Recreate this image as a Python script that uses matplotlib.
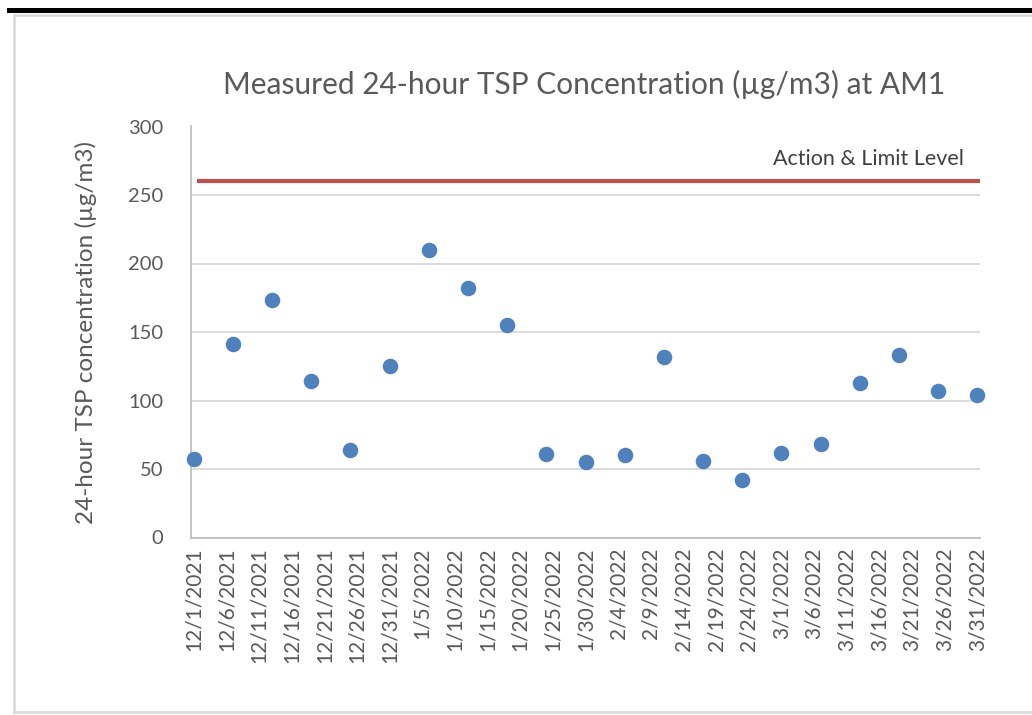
import matplotlib
matplotlib.use("Agg")
import matplotlib.pyplot as plt
import pandas as pd
from matplotlib.lines import Line2D

# sample dates and measured TSP (ug/m3)
sample_dates = ["2021-12-01", "2021-12-07", "2021-12-13", "2021-12-19", "2021-12-25",
                "2021-12-31", "2022-01-06", "2022-01-12", "2022-01-18", "2022-01-24",
                "2022-01-30", "2022-02-05", "2022-02-11", "2022-02-17", "2022-02-23",
                "2022-03-01", "2022-03-07", "2022-03-13", "2022-03-19", "2022-03-25",
                "2022-03-31"]
tsp_values = [57, 141, 173, 114, 64, 125, 210, 182, 155, 61, 55, 60, 132, 56, 42,
              62, 68, 113, 133, 107, 104]
limit_level = 260

tick_dates = ["2021-12-01", "2021-12-06", "2021-12-11", "2021-12-16", "2021-12-21",
              "2021-12-26", "2021-12-31", "2022-01-05", "2022-01-10", "2022-01-15",
              "2022-01-20", "2022-01-25", "2022-01-30", "2022-02-04", "2022-02-09",
              "2022-02-14", "2022-02-19", "2022-02-24", "2022-03-01", "2022-03-06",
              "2022-03-11", "2022-03-16", "2022-03-21", "2022-03-26", "2022-03-31"]
tick_labels = ["12/1/2021", "12/6/2021", "12/11/2021", "12/16/2021", "12/21/2021",
               "12/26/2021", "12/31/2021", "1/5/2022", "1/10/2022", "1/15/2022",
               "1/20/2022", "1/25/2022", "1/30/2022", "2/4/2022", "2/9/2022",
               "2/14/2022", "2/19/2022", "2/24/2022", "3/1/2022", "3/6/2022",
               "3/11/2022", "3/16/2022", "3/21/2022", "3/26/2022", "3/31/2022"]

x = pd.to_datetime(sample_dates)
ticks = pd.to_datetime(tick_dates)

plt.rcParams['font.family'] = ['Lato', 'DejaVu Sans']
grey_txt = "#595959"

W, H = 1032, 715
fig = plt.figure(figsize=(W / 100, H / 100), dpi=100)

# frame bits around the chart
fig.add_artist(Line2D([9 / W, 1], [1 - 10 / H, 1 - 10 / H], color="black", lw=3.6))
fig.add_artist(Line2D([13.5 / W, 1], [1 - 15 / H, 1 - 15 / H], color="#d9d9d9", lw=1.8))
fig.add_artist(Line2D([13.5 / W, 13.5 / W], [1 - 15 / H, 1 - 711.5 / H], color="#d9d9d9", lw=1.8))
fig.add_artist(Line2D([13.5 / W, 1], [1 - 711.5 / H, 1 - 711.5 / H], color="#d9d9d9", lw=1.8))

ax = fig.add_axes([191 / W, 1 - 537.5 / H, (980 - 191) / W, (537.5 - 126.5) / H])

ax.scatter(x, tsp_values, s=125, color="#4F81BD", zorder=3, clip_on=False, linewidths=0)
ax.axhline(limit_level, xmin=0.01, xmax=0.997, color="#C0504D", lw=3, zorder=2)
ax.text(0.98, 276, "Action & Limit Level", transform=ax.get_yaxis_transform(),
        ha="right", va="center", fontsize=15.5, color="#404040")

ax.set_xlim(ticks[0] - pd.Timedelta(hours=10), ticks[-1] + pd.Timedelta(hours=10))
ax.set_ylim(0, 300)
ax.set_yticks(range(0, 301, 50))
ax.set_xticks(ticks)
ax.set_xticklabels(tick_labels, rotation=90)

ax.grid(axis="y", color="#d9d9d9", lw=1.3)
ax.set_axisbelow(True)
for side in ["top", "right"]:
    ax.spines[side].set_visible(False)
ax.spines["left"].set_color("#bfbfbf")
ax.spines["bottom"].set_color("#bfbfbf")
ax.spines["left"].set_linewidth(1.3)
ax.spines["bottom"].set_linewidth(1.3)

ax.tick_params(axis="x", length=0, pad=7, labelsize=15, labelcolor=grey_txt)
ax.tick_params(axis="y", length=0, pad=20, labelsize=14.5, labelcolor=grey_txt)

ax.set_ylabel("24-hour TSP concentration (µg/m3)", fontsize=17.5, color=grey_txt, labelpad=22)
fig.text(584 / W, 1 - 84 / H, "Measured 24-hour TSP Concentration (µg/m3) at AM1",
         ha="center", va="center", fontsize=21.5, color=grey_txt)

fig.savefig("out.png", dpi=100)
